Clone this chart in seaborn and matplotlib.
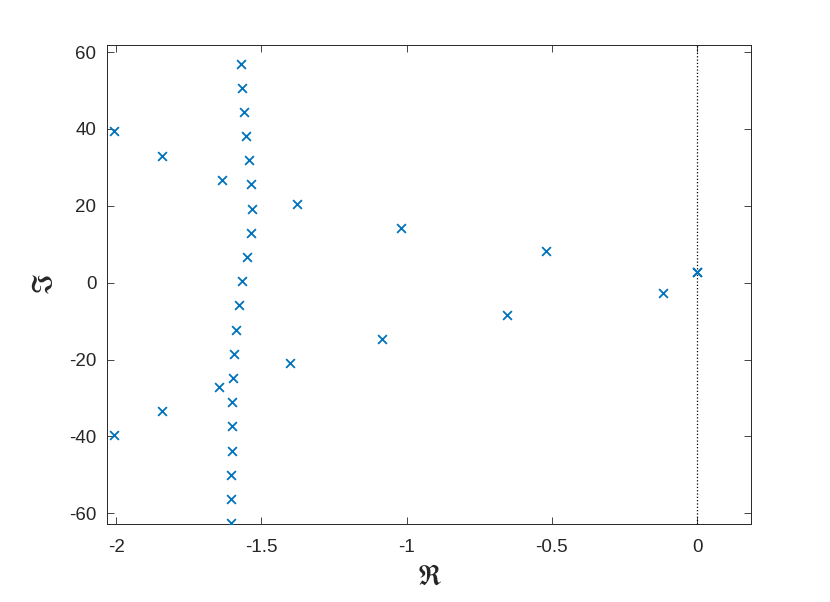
import numpy as np
import pandas as pd
import seaborn as sns
from matplotlib import pyplot as plt

re_col = [-1.570, -1.566, -1.560, -1.553, -1.543, -1.536, -1.531, -1.537, -1.550, -1.566,
          -1.577, -1.588, -1.594, -1.598, -1.602, -1.603, -1.603, -1.604, -1.605, -1.605]
im_col = [57.0, 50.7, 44.4, 38.1, 31.8, 25.6, 19.2, 13.0, 6.7, 0.4,
          -5.9, -12.2, -18.5, -24.8, -31.1, -37.4, -43.7, -50.0, -56.3, -62.6]
re_upper = [-2.009, -1.842, -1.636, -1.376, -1.018, -0.520, -0.002, 0.0]
im_upper = [39.4, 33.0, 26.7, 20.5, 14.3, 8.2, 2.7, 2.8]
re_lower = [-2.007, -1.842, -1.645, -1.402, -1.085, -0.653, -0.118]
im_lower = [-39.5, -33.3, -27.0, -20.9, -14.6, -8.5, -2.8]

df = pd.DataFrame({'re': re_col + re_upper + re_lower,
                   'im': im_col + im_upper + im_lower})

sns.set_style('ticks')
plt.rcParams['font.family'] = ['Liberation Sans', 'DejaVu Sans']
plt.rcParams['axes.unicode_minus'] = False
plt.rcParams['mathtext.fontset'] = 'stix'

fig = plt.figure(figsize=(8.3, 6.02), dpi=100)
ax = fig.add_axes([0.1295, 0.130, 0.7755, 0.795])

ax.axvline(0, color='k', linestyle=':', linewidth=0.9, zorder=1)
sns.scatterplot(data=df, x='re', y='im', marker='x', color='#0072BD',
                s=40, linewidth=1.3, ax=ax, zorder=3)

ax.set_xlim(-2.03, 0.186)
ax.set_ylim(-62.7, 61.8)
ax.set_xticks([-2, -1.5, -1, -0.5, 0])
ax.set_xticklabels(['-2', '-1.5', '-1', '-0.5', '0'])
ax.set_yticks([-60, -40, -20, 0, 20, 40, 60])

ax.tick_params(direction='in', top=True, right=True, length=5, width=0.6,
               colors='#262626', labelsize=13.5)
ax.tick_params(axis='x', pad=11)
ax.tick_params(axis='y', pad=8)
for sp in ax.spines.values():
    sp.set_visible(True)
    sp.set_color('#262626')
    sp.set_linewidth(0.7)

ax.set_xlabel(r'$\Re$', fontsize=20, color='#262626', labelpad=6)
ax.set_ylabel(r'$\Im$', fontsize=20, color='#262626', labelpad=8)

plt.savefig('out.png', dpi=100)
